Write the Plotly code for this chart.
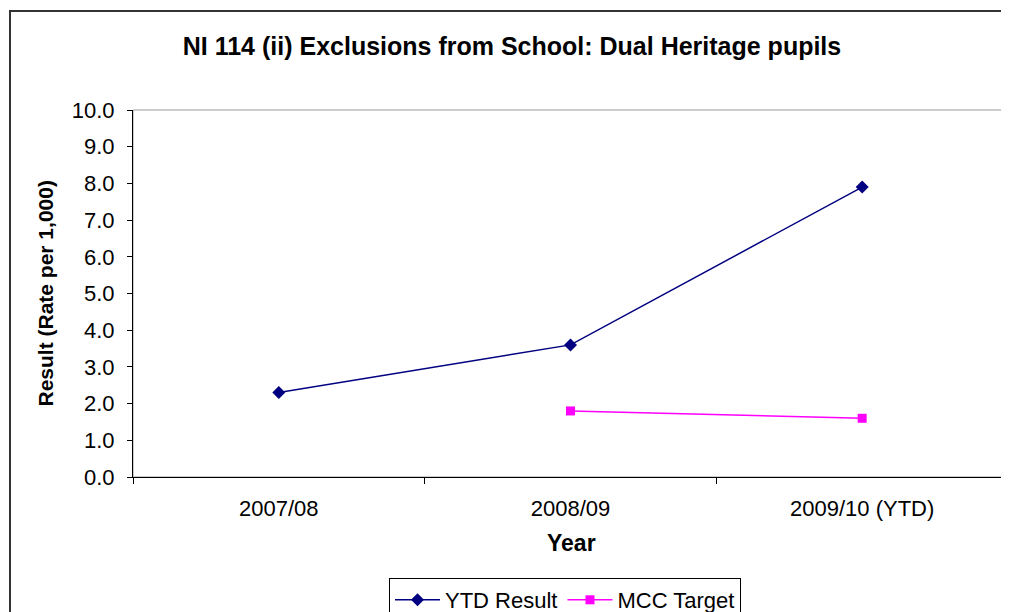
import plotly.graph_objects as go

years = ["2007/08", "2008/09", "2009/10 (YTD)"]
ytd_result = [2.3, 3.6, 7.9]
mcc_target = [None, 1.8, 1.6]

# page body has an 8px margin, so figure coords = screen coords - 8
OFF = 8
W, H = 1001, 612
L, R, T, B = 133 - OFF, 1, 110 - OFF, H - (477 - OFF)
pw = W - L - R
ph = H - T - B


def px(x):
    return (x - OFF - L) / pw


def py(y):
    return (H - B - (y - OFF)) / ph


fig = go.Figure()
fig.add_trace(go.Scatter(x=years, y=ytd_result, name="YTD Result", mode="lines+markers",
                         line=dict(color="#000080", width=1.5),
                         marker=dict(symbol="diamond", size=10, color="#000080")))
fig.add_trace(go.Scatter(x=years, y=mcc_target, name="MCC Target", mode="lines+markers",
                         line=dict(color="#FF00FF", width=1.5),
                         marker=dict(symbol="square", size=9, color="#FF00FF")))

font = "Liberation Sans, Arial, sans-serif"
fig.update_layout(
    width=W, height=H,
    margin=dict(l=L, r=R, t=T, b=B, autoexpand=False),
    paper_bgcolor="white", plot_bgcolor="white",
    font=dict(family=font, color="black"),
    title=dict(text="<b>NI 114 (ii) Exclusions from School: Dual Heritage pupils</b>",
               x=(512 - OFF) / W, xanchor="center", y=1 - (46 - OFF) / H, yanchor="middle",
               font=dict(size=25, family=font, color="black")),
    xaxis=dict(type="category", range=[-0.5, 2.5], showline=True, linecolor="black",
               linewidth=1, ticks="outside", ticklen=6, tickcolor="black",
               tickson="boundaries", showgrid=False, zeroline=False,
               tickfont=dict(size=22), ticklabelstandoff=12),
    yaxis=dict(range=[0, 10], dtick=1, tickformat=".1f", showline=True,
               linecolor="black", linewidth=1, ticks="outside", ticklen=5,
               tickcolor="black", showgrid=False, zeroline=False,
               tickfont=dict(size=22), ticklabelstandoff=8),
    legend=dict(orientation="h", x=px(565), xanchor="center",
                y=py(578), yanchor="top",
                bordercolor="black", borderwidth=1, font=dict(size=22),
                itemwidth=45, tracegroupgap=0),
    showlegend=True,
)

# outer chart frame and grey plot-area border
fig.add_shape(type="rect", xref="paper", yref="paper",
              x0=px(10), x1=1.05, y0=-1, y1=py(11),
              line=dict(color="#333333", width=2), layer="below")
fig.add_shape(type="rect", xref="paper", yref="paper", x0=0, x1=1, y0=0, y1=1,
              line=dict(color="#999999", width=1), layer="below")

fig.add_annotation(text="<b>Result (Rate per 1,000)</b>", textangle=-90,
                   xref="paper", yref="paper", x=px(45), y=0.5,
                   xanchor="center", yanchor="middle",
                   showarrow=False, font=dict(size=21))
fig.add_annotation(text="<b>Year</b>", xref="paper", yref="paper",
                   x=px(571), y=py(543), xanchor="center", yanchor="middle",
                   showarrow=False, font=dict(size=23))

fig.write_html("out.html")
